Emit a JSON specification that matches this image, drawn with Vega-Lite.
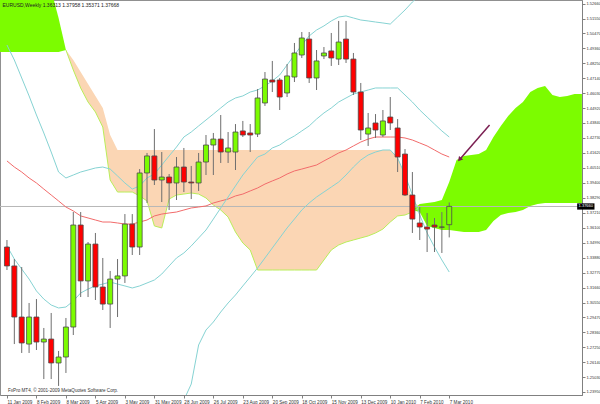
{
  "$schema": "https://vega.github.io/schema/vega-lite/v6.json",
  "width": 582,
  "height": 395,
  "autosize": {"type": "none"},
  "padding": {"left": 0, "top": 0, "right": 18, "bottom": 9},
  "background": "white",
  "config": {"view": {"stroke": "#909090"}, "font": "Liberation Sans", "axis": {"labelOverlap": false, "labelSeparation": 0, "labelFont": "Liberation Sans"}},
  "title": {"text": "EURUSD,Weekly  1.36313 1.37958 1.35371 1.37668", "anchor": "start", "fontSize": 5, "fontWeight": "normal", "color": "#222", "offset": -8, "dx": 3, "font": "Liberation Sans"},
  "datasets": {
    "w": [
      {"d":"2009-01-11","o":1.3466,"h":1.3518,"l":1.3296,"c":1.3326,"ma":1.4103,"up":1.4961,"mid":1.3474,"lo":null},
      {"d":"2009-01-18","o":1.3326,"h":1.3377,"l":1.2748,"c":1.2948,"ma":1.4058,"up":1.4850,"mid":1.3377,"lo":null},
      {"d":"2009-01-25","o":1.2948,"h":1.3318,"l":1.2682,"c":1.2756,"ma":1.4021,"up":1.4717,"mid":1.3303,"lo":null},
      {"d":"2009-02-01","o":1.2748,"h":1.3052,"l":1.2682,"c":1.2948,"ma":1.3977,"up":1.4584,"mid":1.3229,"lo":null},
      {"d":"2009-02-08","o":1.2948,"h":1.3081,"l":1.2704,"c":1.2763,"ma":1.3940,"up":1.4443,"mid":1.3141,"lo":null},
      {"d":"2009-02-15","o":1.2763,"h":1.2867,"l":1.2489,"c":1.2785,"ma":1.3895,"up":1.4310,"mid":1.3081,"lo":null},
      {"d":"2009-02-22","o":1.2785,"h":1.2978,"l":1.2489,"c":1.2608,"ma":1.3851,"up":1.4169,"mid":1.3037,"lo":null},
      {"d":"2009-03-01","o":1.2608,"h":1.2697,"l":1.2438,"c":1.2652,"ma":1.3807,"up":1.4021,"mid":1.3015,"lo":null},
      {"d":"2009-03-08","o":1.2652,"h":1.2941,"l":1.2534,"c":1.2874,"ma":1.3762,"up":1.3977,"mid":1.3022,"lo":null},
      {"d":"2009-03-15","o":1.2874,"h":1.3725,"l":1.2815,"c":1.3629,"ma":1.3733,"up":1.3999,"mid":1.3067,"lo":null},
      {"d":"2009-03-22","o":1.3629,"h":1.3725,"l":1.3096,"c":1.3215,"ma":1.3696,"up":1.4021,"mid":1.3126,"lo":null},
      {"d":"2009-03-29","o":1.3215,"h":1.3503,"l":1.3096,"c":1.3488,"ma":1.3681,"up":1.4036,"mid":1.3155,"lo":null},
      {"d":"2009-04-05","o":1.3488,"h":1.3570,"l":1.3074,"c":1.3170,"ma":1.3666,"up":1.4051,"mid":1.3178,"lo":null},
      {"d":"2009-04-12","o":1.3170,"h":1.3385,"l":1.3000,"c":1.3044,"ma":1.3651,"up":1.4058,"mid":1.3192,"lo":null},
      {"d":"2009-04-19","o":1.3044,"h":1.3289,"l":1.2867,"c":1.3229,"ma":1.3651,"up":1.4043,"mid":1.3207,"lo":null},
      {"d":"2009-04-26","o":1.3229,"h":1.3377,"l":1.2948,"c":1.3252,"ma":1.3644,"up":1.3992,"mid":1.3192,"lo":null},
      {"d":"2009-05-03","o":1.3252,"h":1.3710,"l":1.3200,"c":1.3636,"ma":1.3636,"up":1.3940,"mid":1.3178,"lo":null},
      {"d":"2009-05-10","o":1.3636,"h":1.3710,"l":1.3407,"c":1.3466,"ma":1.3636,"up":1.3895,"mid":1.3163,"lo":null},
      {"d":"2009-05-17","o":1.3466,"h":1.4043,"l":1.3407,"c":1.4014,"ma":1.3651,"up":1.3918,"mid":1.3178,"lo":null},
      {"d":"2009-05-24","o":1.4014,"h":1.4162,"l":1.3792,"c":1.4140,"ma":1.3666,"up":1.3977,"mid":1.3200,"lo":null},
      {"d":"2009-05-31","o":1.4140,"h":1.4339,"l":1.3925,"c":1.3962,"ma":1.3696,"up":1.4006,"mid":1.3222,"lo":null},
      {"d":"2009-06-07","o":1.3962,"h":1.4169,"l":1.3799,"c":1.3984,"ma":1.3710,"up":1.4073,"mid":1.3266,"lo":null},
      {"d":"2009-06-14","o":1.3984,"h":1.4006,"l":1.3740,"c":1.3940,"ma":1.3718,"up":1.4140,"mid":1.3326,"lo":null},
      {"d":"2009-06-21","o":1.3940,"h":1.4132,"l":1.3814,"c":1.4058,"ma":1.3725,"up":1.4206,"mid":1.3385,"lo":null},
      {"d":"2009-06-28","o":1.4058,"h":1.4199,"l":1.3873,"c":1.3947,"ma":1.3740,"up":1.4280,"mid":1.3422,"lo":1.2334},
      {"d":"2009-07-05","o":1.3947,"h":1.4066,"l":1.3821,"c":1.3940,"ma":1.3755,"up":1.4317,"mid":1.3474,"lo":1.2452},
      {"d":"2009-07-12","o":1.3940,"h":1.4162,"l":1.3881,"c":1.4095,"ma":1.3762,"up":1.4362,"mid":1.3533,"lo":1.2741},
      {"d":"2009-07-19","o":1.4095,"h":1.4295,"l":1.3999,"c":1.4221,"ma":1.3770,"up":1.4406,"mid":1.3592,"lo":1.2852},
      {"d":"2009-07-26","o":1.4221,"h":1.4310,"l":1.3999,"c":1.4265,"ma":1.3792,"up":1.4450,"mid":1.3673,"lo":1.2911},
      {"d":"2009-08-02","o":1.4265,"h":1.4443,"l":1.4088,"c":1.4169,"ma":1.3807,"up":1.4495,"mid":1.3755,"lo":1.2985},
      {"d":"2009-08-09","o":1.4169,"h":1.4317,"l":1.4088,"c":1.4199,"ma":1.3821,"up":1.4539,"mid":1.3836,"lo":1.3052},
      {"d":"2009-08-16","o":1.4169,"h":1.4376,"l":1.4036,"c":1.4317,"ma":1.3844,"up":1.4569,"mid":1.3918,"lo":1.3111},
      {"d":"2009-08-23","o":1.4325,"h":1.4399,"l":1.4280,"c":1.4295,"ma":1.3858,"up":1.4584,"mid":1.3999,"lo":1.3178},
      {"d":"2009-08-30","o":1.4310,"h":1.4376,"l":1.4169,"c":1.4295,"ma":1.3881,"up":1.4613,"mid":1.4066,"lo":1.3244},
      {"d":"2009-09-06","o":1.4302,"h":1.4635,"l":1.4280,"c":1.4569,"ma":1.3903,"up":1.4628,"mid":1.4132,"lo":1.3311},
      {"d":"2009-09-13","o":1.4532,"h":1.4761,"l":1.4510,"c":1.4709,"ma":1.3932,"up":1.4658,"mid":1.4154,"lo":1.3385},
      {"d":"2009-09-20","o":1.4702,"h":1.4843,"l":1.4613,"c":1.4687,"ma":1.3955,"up":1.4695,"mid":1.4199,"lo":1.3459},
      {"d":"2009-09-27","o":1.4702,"h":1.4717,"l":1.4480,"c":1.4576,"ma":1.3977,"up":1.4739,"mid":1.4221,"lo":1.3533},
      {"d":"2009-10-04","o":1.4606,"h":1.4820,"l":1.4576,"c":1.4732,"ma":1.4006,"up":1.4813,"mid":1.4258,"lo":1.3607},
      {"d":"2009-10-11","o":1.4724,"h":1.4976,"l":1.4687,"c":1.4902,"ma":1.4029,"up":1.4887,"mid":1.4288,"lo":1.3673},
      {"d":"2009-10-18","o":1.4887,"h":1.5057,"l":1.4865,"c":1.5013,"ma":1.4043,"up":1.4961,"mid":1.4325,"lo":1.3740},
      {"d":"2009-10-25","o":1.5005,"h":1.5057,"l":1.4680,"c":1.4717,"ma":1.4058,"up":1.5028,"mid":1.4362,"lo":1.3792},
      {"d":"2009-11-01","o":1.4717,"h":1.4924,"l":1.4628,"c":1.4843,"ma":1.4073,"up":1.5072,"mid":1.4413,"lo":1.3836},
      {"d":"2009-11-08","o":1.4880,"h":1.4946,"l":1.4857,"c":1.4902,"ma":1.4103,"up":1.5102,"mid":1.4458,"lo":1.3873},
      {"d":"2009-11-15","o":1.4917,"h":1.5050,"l":1.4806,"c":1.4865,"ma":1.4132,"up":1.5139,"mid":1.4495,"lo":1.3910},
      {"d":"2009-11-22","o":1.4857,"h":1.5139,"l":1.4813,"c":1.4983,"ma":1.4162,"up":1.5168,"mid":1.4539,"lo":1.3947},
      {"d":"2009-11-29","o":1.5005,"h":1.5139,"l":1.4828,"c":1.4857,"ma":1.4184,"up":1.5176,"mid":1.4569,"lo":1.3999},
      {"d":"2009-12-06","o":1.4857,"h":1.4902,"l":1.4591,"c":1.4613,"ma":1.4214,"up":1.5161,"mid":1.4598,"lo":1.4058},
      {"d":"2009-12-13","o":1.4613,"h":1.4680,"l":1.4258,"c":1.4332,"ma":1.4243,"up":1.5146,"mid":1.4613,"lo":1.4110},
      {"d":"2009-12-20","o":1.4302,"h":1.4458,"l":1.4214,"c":1.4347,"ma":1.4265,"up":1.5139,"mid":1.4628,"lo":1.4147},
      {"d":"2009-12-27","o":1.4384,"h":1.4450,"l":1.4273,"c":1.4332,"ma":1.4280,"up":1.5131,"mid":1.4643,"lo":1.4169},
      {"d":"2010-01-03","o":1.4295,"h":1.4480,"l":1.4280,"c":1.4399,"ma":1.4280,"up":1.5124,"mid":1.4643,"lo":1.4184},
      {"d":"2010-01-10","o":1.4428,"h":1.4576,"l":1.4332,"c":1.4384,"ma":1.4280,"up":1.5116,"mid":1.4643,"lo":1.4184},
      {"d":"2010-01-17","o":1.4347,"h":1.4413,"l":1.4021,"c":1.4132,"ma":1.4280,"up":1.5168,"mid":1.4643,"lo":1.4125},
      {"d":"2010-01-24","o":1.4154,"h":1.4191,"l":1.3844,"c":1.3851,"ma":1.4273,"up":1.5220,"mid":1.4591,"lo":1.3999},
      {"d":"2010-01-31","o":1.3851,"h":1.4021,"l":1.3570,"c":1.3673,"ma":1.4258,"up":1.5279,"mid":1.4539,"lo":1.3851},
      {"d":"2010-02-07","o":1.3644,"h":1.3762,"l":1.3518,"c":1.3614,"ma":1.4236,"up":1.5331,"mid":1.4480,"lo":1.3703},
      {"d":"2010-02-14","o":1.3614,"h":1.3718,"l":1.3429,"c":1.3599,"ma":1.4214,"up":1.5405,"mid":1.4428,"lo":1.3570},
      {"d":"2010-02-21","o":1.3629,"h":1.3681,"l":1.3429,"c":1.3614,"ma":1.4184,"up":1.5479,"mid":1.4376,"lo":1.3466},
      {"d":"2010-02-28","o":1.3614,"h":1.3725,"l":1.3422,"c":1.3613,"ma":1.4154,"up":1.5553,"mid":1.4325,"lo":1.3370},
      {"d":"2010-03-07","o":1.36313,"h":1.37958,"l":1.35371,"c":1.37668,"ma":1.4132,"up":1.5590,"mid":1.4280,"lo":1.3281}
    ],
    "cloud": [
      {"d":"2009-01-04","top":1.5442,"bot":1.4909,"kind":"bull","seg":"g1"},
      {"d":"2009-01-11","top":1.5442,"bot":1.4909,"kind":"bull","seg":"g1"},
      {"d":"2009-01-18","top":1.5442,"bot":1.4909,"kind":"bull","seg":"g1"},
      {"d":"2009-01-25","top":1.5442,"bot":1.4909,"kind":"bull","seg":"g1"},
      {"d":"2009-02-01","top":1.5442,"bot":1.4909,"kind":"bull","seg":"g1"},
      {"d":"2009-02-08","top":1.5442,"bot":1.4909,"kind":"bull","seg":"g1"},
      {"d":"2009-02-15","top":1.5442,"bot":1.4909,"kind":"bull","seg":"g1"},
      {"d":"2009-02-22","top":1.5368,"bot":1.4909,"kind":"bull","seg":"g1"},
      {"d":"2009-03-01","top":1.5161,"bot":1.4909,"kind":"bull","seg":"g1"},
      {"d":"2009-03-08","top":1.4924,"bot":1.4924,"kind":"bull","seg":"g1"},
      {"d":"2009-03-08","top":1.4924,"bot":1.4924,"kind":"bear","seg":"p"},
      {"d":"2009-03-15","top":1.4850,"bot":1.4776,"kind":"bear","seg":"p"},
      {"d":"2009-03-22","top":1.4761,"bot":1.4643,"kind":"bear","seg":"p"},
      {"d":"2009-03-29","top":1.4672,"bot":1.4539,"kind":"bear","seg":"p"},
      {"d":"2009-04-05","top":1.4584,"bot":1.4465,"kind":"bear","seg":"p"},
      {"d":"2009-04-12","top":1.4495,"bot":1.4354,"kind":"bear","seg":"p"},
      {"d":"2009-04-19","top":1.4295,"bot":1.3962,"kind":"bear","seg":"p"},
      {"d":"2009-04-26","top":1.4184,"bot":1.3873,"kind":"bear","seg":"p"},
      {"d":"2009-05-03","top":1.4184,"bot":1.3873,"kind":"bear","seg":"p"},
      {"d":"2009-05-10","top":1.4184,"bot":1.3873,"kind":"bear","seg":"p"},
      {"d":"2009-05-17","top":1.4184,"bot":1.3844,"kind":"bear","seg":"p"},
      {"d":"2009-05-24","top":1.4184,"bot":1.3807,"kind":"bear","seg":"p"},
      {"d":"2009-05-31","top":1.4184,"bot":1.3622,"kind":"bear","seg":"p"},
      {"d":"2009-06-07","top":1.4184,"bot":1.3607,"kind":"bear","seg":"p"},
      {"d":"2009-06-14","top":1.4184,"bot":1.3821,"kind":"bear","seg":"p"},
      {"d":"2009-06-21","top":1.4184,"bot":1.3851,"kind":"bear","seg":"p"},
      {"d":"2009-06-28","top":1.4184,"bot":1.3858,"kind":"bear","seg":"p"},
      {"d":"2009-07-05","top":1.4184,"bot":1.3866,"kind":"bear","seg":"p"},
      {"d":"2009-07-12","top":1.4184,"bot":1.3858,"kind":"bear","seg":"p"},
      {"d":"2009-07-19","top":1.4184,"bot":1.3829,"kind":"bear","seg":"p"},
      {"d":"2009-07-26","top":1.4184,"bot":1.3777,"kind":"bear","seg":"p"},
      {"d":"2009-08-02","top":1.4184,"bot":1.3740,"kind":"bear","seg":"p"},
      {"d":"2009-08-09","top":1.4184,"bot":1.3688,"kind":"bear","seg":"p"},
      {"d":"2009-08-16","top":1.4184,"bot":1.3577,"kind":"bear","seg":"p"},
      {"d":"2009-08-23","top":1.4184,"bot":1.3496,"kind":"bear","seg":"p"},
      {"d":"2009-08-30","top":1.4184,"bot":1.3444,"kind":"bear","seg":"p"},
      {"d":"2009-09-06","top":1.4184,"bot":1.3296,"kind":"bear","seg":"p"},
      {"d":"2009-09-13","top":1.4184,"bot":1.3296,"kind":"bear","seg":"p"},
      {"d":"2009-09-20","top":1.4184,"bot":1.3296,"kind":"bear","seg":"p"},
      {"d":"2009-09-27","top":1.4184,"bot":1.3296,"kind":"bear","seg":"p"},
      {"d":"2009-10-04","top":1.4184,"bot":1.3296,"kind":"bear","seg":"p"},
      {"d":"2009-10-11","top":1.4184,"bot":1.3296,"kind":"bear","seg":"p"},
      {"d":"2009-10-18","top":1.4184,"bot":1.3296,"kind":"bear","seg":"p"},
      {"d":"2009-10-25","top":1.4184,"bot":1.3296,"kind":"bear","seg":"p"},
      {"d":"2009-11-01","top":1.4184,"bot":1.3296,"kind":"bear","seg":"p"},
      {"d":"2009-11-08","top":1.4184,"bot":1.3370,"kind":"bear","seg":"p"},
      {"d":"2009-11-15","top":1.4184,"bot":1.3444,"kind":"bear","seg":"p"},
      {"d":"2009-11-22","top":1.4184,"bot":1.3481,"kind":"bear","seg":"p"},
      {"d":"2009-11-29","top":1.4184,"bot":1.3503,"kind":"bear","seg":"p"},
      {"d":"2009-12-06","top":1.4184,"bot":1.3518,"kind":"bear","seg":"p"},
      {"d":"2009-12-13","top":1.4184,"bot":1.3533,"kind":"bear","seg":"p"},
      {"d":"2009-12-20","top":1.4184,"bot":1.3548,"kind":"bear","seg":"p"},
      {"d":"2009-12-27","top":1.4184,"bot":1.3570,"kind":"bear","seg":"p"},
      {"d":"2010-01-03","top":1.4184,"bot":1.3599,"kind":"bear","seg":"p"},
      {"d":"2010-01-10","top":1.4184,"bot":1.3651,"kind":"bear","seg":"p"},
      {"d":"2010-01-17","top":1.4132,"bot":1.3696,"kind":"bear","seg":"p"},
      {"d":"2010-01-24","top":1.3984,"bot":1.3703,"kind":"bear","seg":"p"},
      {"d":"2010-01-31","top":1.3814,"bot":1.3725,"kind":"bear","seg":"p"},
      {"d":"2010-02-07","top":1.3762,"bot":1.3762,"kind":"bear","seg":"p"},
      {"d":"2010-01-31","top":1.3740,"bot":1.3740,"kind":"bull","seg":"g2"},
      {"d":"2010-02-07","top":1.3784,"bot":1.3725,"kind":"bull","seg":"g2"},
      {"d":"2010-02-14","top":1.3792,"bot":1.3622,"kind":"bull","seg":"g2"},
      {"d":"2010-02-21","top":1.3799,"bot":1.3607,"kind":"bull","seg":"g2"},
      {"d":"2010-02-28","top":1.3814,"bot":1.3592,"kind":"bull","seg":"g2"},
      {"d":"2010-03-07","top":1.3947,"bot":1.3592,"kind":"bull","seg":"g2"},
      {"d":"2010-03-14","top":1.4110,"bot":1.3585,"kind":"bull","seg":"g2"},
      {"d":"2010-03-21","top":1.4140,"bot":1.3577,"kind":"bull","seg":"g2"},
      {"d":"2010-03-28","top":1.4147,"bot":1.3577,"kind":"bull","seg":"g2"},
      {"d":"2010-04-04","top":1.4154,"bot":1.3577,"kind":"bull","seg":"g2"},
      {"d":"2010-04-11","top":1.4184,"bot":1.3592,"kind":"bull","seg":"g2"},
      {"d":"2010-04-18","top":1.4280,"bot":1.3659,"kind":"bull","seg":"g2"},
      {"d":"2010-04-25","top":1.4362,"bot":1.3703,"kind":"bull","seg":"g2"},
      {"d":"2010-05-02","top":1.4436,"bot":1.3718,"kind":"bull","seg":"g2"},
      {"d":"2010-05-09","top":1.4495,"bot":1.3725,"kind":"bull","seg":"g2"},
      {"d":"2010-05-16","top":1.4539,"bot":1.3740,"kind":"bull","seg":"g2"},
      {"d":"2010-05-23","top":1.4613,"bot":1.3770,"kind":"bull","seg":"g2"},
      {"d":"2010-05-30","top":1.4643,"bot":1.3784,"kind":"bull","seg":"g2"},
      {"d":"2010-06-06","top":1.4658,"bot":1.3792,"kind":"bull","seg":"g2"},
      {"d":"2010-06-13","top":1.4591,"bot":1.3792,"kind":"bull","seg":"g2"},
      {"d":"2010-06-20","top":1.4576,"bot":1.3792,"kind":"bull","seg":"g2"},
      {"d":"2010-06-27","top":1.4584,"bot":1.3792,"kind":"bull","seg":"g2"},
      {"d":"2010-07-04","top":1.4598,"bot":1.3792,"kind":"bull","seg":"g2"},
      {"d":"2010-07-11","top":1.4598,"bot":1.3792,"kind":"bull","seg":"g2"}
    ],
    "arrow": [{"d":"2010-04-14T07:00:00Z","p":1.4369,"d2":"2010-03-17T07:00:00Z","p2":1.4118}],
    "bid": [{"p":1.3766,"label":"1.37660"}]
  },
  "layer": [
    {
      "data": {"name": "cloud"},
      "mark": {"type": "area", "clip": true, "opacity": 1},
      "encoding": {
        "x": {"field": "d", "type": "temporal",
          "scale": {"type": "utc", "nice": false, "domain": [{"year":2009,"month":1,"date":9,"hours":3,"minutes":12,"utc":true},{"year":2010,"month":7,"date":6,"hours":8,"utc":true}]},
          "axis": {"title": null, "format": "%-d %b %Y", "labelAlign": "left", "labelFontSize": 4.6, "labelColor": "#333", "labelPadding": 1, "tickSize": 3, "tickColor": "#808080", "domainColor": "#808080", "grid": false, "labelOverlap": false, "labelBound": false, "labelFlush": false, "labelSeparation": 0, "tickCount": 200,
            "values": [{"year":2009,"month":1,"date":11,"utc":true},{"year":2009,"month":2,"date":8,"utc":true},{"year":2009,"month":3,"date":8,"utc":true},{"year":2009,"month":4,"date":5,"utc":true},{"year":2009,"month":5,"date":3,"utc":true},{"year":2009,"month":5,"date":31,"utc":true},{"year":2009,"month":6,"date":28,"utc":true},{"year":2009,"month":7,"date":26,"utc":true},{"year":2009,"month":8,"date":23,"utc":true},{"year":2009,"month":9,"date":20,"utc":true},{"year":2009,"month":10,"date":18,"utc":true},{"year":2009,"month":11,"date":15,"utc":true},{"year":2009,"month":12,"date":13,"utc":true},{"year":2010,"month":1,"date":10,"utc":true},{"year":2010,"month":2,"date":7,"utc":true},{"year":2010,"month":3,"date":7,"utc":true}]}},
        "y": {"field": "top", "type": "quantitative",
          "scale": {"domain": [1.2371, 1.5294], "nice": false, "zero": false},
          "axis": {"orient": "right", "title": null, "format": ".5f", "labelFontSize": 4, "labelColor": "#333", "labelPadding": 1, "tickSize": 3, "tickColor": "#808080", "domainColor": "#808080", "grid": false, "labelOverlap": false, "labelBound": false, "labelFlush": false, "labelSeparation": 0, "tickCount": 200,
            "values": [1.5266,1.5155,1.5047,1.4936,1.4825,1.4714,1.4603,1.4492,1.4384,1.4273,1.4162,1.4051,1.394,1.3829,1.3721,1.361,1.3499,1.3388,1.3277,1.3166,1.3055,1.2947,1.2836,1.2725,1.2614,1.2503,1.2395]}},
        "y2": {"field": "bot"},
        "color": {"field": "kind", "type": "nominal", "scale": {"domain": ["bull","bear"], "range": ["#7CFC00","#FBD6B4"]}, "legend": null},
        "detail": {"field": "seg"}
      }
    },
    {
      "data": {"name": "cloud"},
      "transform": [{"filter": "datum.seg == 'p'"}],
      "mark": {"type": "line", "clip": true, "color": "#B9EE5A", "strokeWidth": 1},
      "encoding": {"x": {"field": "d", "type": "temporal"}, "y": {"field": "bot", "type": "quantitative"}}
    },
    {
      "data": {"name": "bid"},
      "mark": {"type": "rule", "color": "#B8B8B8", "strokeWidth": 1},
      "encoding": {"y": {"field": "p", "type": "quantitative"}}
    },
    {
      "data": {"name": "w"},
      "mark": {"type": "line", "clip": true, "color": "#F26B6B", "strokeWidth": 1},
      "encoding": {"x": {"field": "d", "type": "temporal"}, "y": {"field": "ma", "type": "quantitative"}}
    },
    {
      "data": {"name": "w"},
      "mark": {"type": "line", "clip": true, "color": "#86D3D3", "strokeWidth": 1},
      "encoding": {"x": {"field": "d", "type": "temporal"}, "y": {"field": "up", "type": "quantitative"}}
    },
    {
      "data": {"name": "w"},
      "mark": {"type": "line", "clip": true, "color": "#86D3D3", "strokeWidth": 1},
      "encoding": {"x": {"field": "d", "type": "temporal"}, "y": {"field": "mid", "type": "quantitative"}}
    },
    {
      "data": {"name": "w"},
      "mark": {"type": "line", "clip": true, "color": "#86D3D3", "strokeWidth": 1},
      "encoding": {"x": {"field": "d", "type": "temporal"}, "y": {"field": "lo", "type": "quantitative"}}
    },
    {
      "data": {"name": "w"},
      "mark": {"type": "rule", "color": "#6E6E6E", "strokeWidth": 1},
      "encoding": {"x": {"field": "d", "type": "temporal"}, "y": {"field": "l", "type": "quantitative"}, "y2": {"field": "h"}}
    },
    {
      "data": {"name": "w"},
      "mark": {"type": "bar", "size": 5, "stroke": "#4A4A4A", "strokeWidth": 0.8},
      "encoding": {
        "x": {"field": "d", "type": "temporal"},
        "y": {"field": "o", "type": "quantitative"},
        "y2": {"field": "c"},
        "fill": {"condition": {"test": "datum.c >= datum.o", "value": "#7CFC00"}, "value": "#FF0000"}
      }
    },
    {
      "data": {"name": "arrow"},
      "mark": {"type": "rule", "color": "#7B1F52", "strokeWidth": 1.5},
      "encoding": {"x": {"field": "d", "type": "temporal"}, "x2": {"field": "d2"}, "y": {"field": "p", "type": "quantitative"}, "y2": {"field": "p2"}}
    },
    {
      "data": {"name": "arrow"},
      "mark": {"type": "point", "shape": "triangle", "filled": true, "color": "#7B1F52", "size": 30, "angle": 221, "opacity": 1},
      "encoding": {"x": {"field": "d2", "type": "temporal"}, "y": {"field": "p2", "type": "quantitative"}}
    },
    {
      "data": {"name": "bid"},
      "mark": {"type": "point", "shape": "M-1,-0.36H1V0.36H-1Z", "filled": true, "color": "#000000", "size": 300, "opacity": 1},
      "encoding": {"x": {"datum": {"year":2010,"month":7,"date":14,"hours":17,"utc":true}, "type": "temporal"}, "y": {"field": "p", "type": "quantitative"}}
    },
    {
      "data": {"name": "bid"},
      "mark": {"type": "text", "color": "#FFFFFF", "fontSize": 4, "align": "center", "baseline": "middle", "font": "Liberation Sans"},
      "encoding": {"x": {"datum": {"year":2010,"month":7,"date":14,"hours":17,"utc":true}, "type": "temporal"}, "y": {"field": "p", "type": "quantitative"}, "text": {"field": "label"}}
    },
    {
      "data": {"values": [{"note": "FxPro MT4, © 2001-2009 MetaQuotes Software Corp."}]},
      "mark": {"type": "text", "color": "#333", "fontSize": 4.6, "align": "left", "baseline": "bottom", "dx": 1, "font": "Liberation Sans"},
      "encoding": {"x": {"datum": {"year":2009,"month":1,"date":11,"utc":true}, "type": "temporal"}, "y": {"datum": 1.2386, "type": "quantitative"}, "text": {"field": "note"}}
    }
  ]
}
